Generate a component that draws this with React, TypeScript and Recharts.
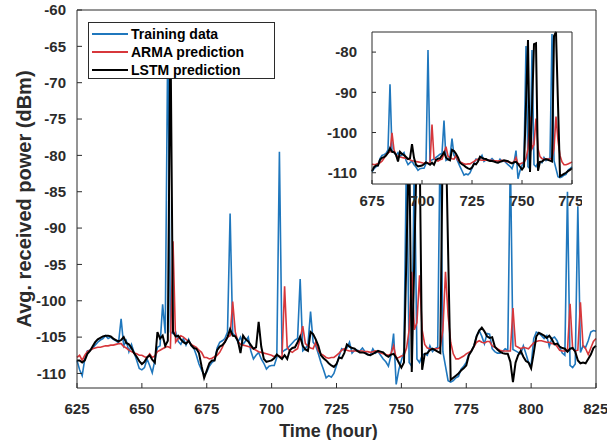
import { CartesianGrid, Legend, Line, LineChart, XAxis, YAxis } from 'recharts';

// hourly samples, 625 h .. 825 h
const START_HOUR = 625;

const TRAINING = [
  -108.2, -109.5, -110.3, -108, -106.9, -106.8, -106.6, -106.1, -105.7, -105.4,
  -105.2, -104.8, -105.2, -105, -105.3, -105.5, -105.8, -102.5, -106.2, -105.5,
  -107, -106, -107.1, -108.2, -109.3, -109.5, -109.2, -108, -108.9, -109.9,
  -108.2, -106.4, -106.2, -100.5, -104.5, -63, -104.3, -104.5, -104.3, -105.6,
  -106, -105.2, -106.1, -105.3, -106.2, -106.5, -107.5, -108.7, -109.5, -110.2,
  -109.8, -109, -108.5, -108.2, -106.5, -105.7, -105.5, -105.2, -104.3, -88,
  -104.5, -104.8, -105.7, -105, -106, -105.5, -105, -106.9, -108, -107.5,
  -107.1, -108, -108.6, -109.4, -109, -108.9, -108.9, -107.8, -79.5, -107.1,
  -106.8, -106.6, -106.2, -105.8, -105.4, -105.2, -97, -106.9, -106.6, -106,
  -101.5, -105.7, -106.2, -107.3, -108.5, -109.5, -110.6, -110.3, -110.5, -110,
  -108.9, -107.6, -106.6, -106.8, -106.5, -105.7, -107.2, -106.8, -106.8, -106.9,
  -106.5, -107, -107.4, -107.5, -106.6, -107.2, -107, -107.5, -108, -108.4,
  -109, -107.5, -104.5, -111.5, -109.5, -108.2, -107, -78.5, -108.5, -109,
  -79.5, -108, -108.5, -107.5, -107.3, -107.5, -106.2, -107, -106.6, -106.4,
  -75.5, -107, -109, -111, -111.2, -111, -110.6, -110.4, -109.4, -109,
  -108.5, -107.3, -106.9, -106.2, -104.8, -104.1, -104.9, -105.9, -104.5, -104.6,
  -106.6, -107, -107.2, -107.2, -107, -106.6, -106.8, -80, -106.7, -106.9,
  -107.1, -107.3, -106.2, -107.3, -108.5, -108.9, -105.2, -104.3, -104.5, -104.8,
  -105.2, -104.8, -106.3, -105.2, -105, -105.5, -106.4, -107.2, -107.5, -85,
  -108.9, -109.2, -108.7, -87, -107.1, -106.2, -106.4, -105.5, -104.3, -104.1,
  -104.2,
];

const ARMA = [
  -107.8, -107.5, -108.2, -107.5, -107, -106.8, -106.6, -106.5, -106.4, -106.4,
  -106.3, -106.2, -106.2, -106.1, -106.1, -106, -105.9, -105.9, -106.3, -106.5,
  -106.8, -107, -107.2, -107.3, -107.5, -107.5, -107.7, -107.8, -107.3, -107.8,
  -107.6, -107, -106.8, -106.6, -106.4, -106.3, -106.5, -91.8, -105.7, -105.2,
  -104.8, -105, -105.3, -105.6, -106, -106.2, -106.4, -106.8, -107.1, -107.8,
  -107.8, -108, -107.9, -107.7, -107.5, -107.1, -106.4, -105.6, -105, -104.8,
  -100.1, -104.3, -105.6, -106, -106.1, -106.2, -106.3, -106.4, -106.6, -106.8,
  -107, -107.1, -107.2, -107.3, -107.4, -107.5, -107.7, -107.5, -107.6, -107.8,
  -98, -106.4, -106.9, -107.1, -106.8, -106.6, -105.2, -103.5, -105.9, -106.2,
  -106.5, -106.6, -105.7, -106.9, -107.3, -107.5, -107.8, -107.9, -107.8, -107.8,
  -107.5, -107.2, -106.8, -106.6, -106.8, -106.9, -106.9, -106.9, -106.9, -106.9,
  -106.9, -107, -107, -107.1, -107, -106.9, -107, -107.2, -107.3, -107.4,
  -107.5, -107.3, -106.2, -107.9, -107.8, -107.6, -107.5, -106.5, -104, -96,
  -104, -103, -96.5, -104, -106, -106.5, -106.6, -106.7, -106.6, -106.6,
  -106.4, -104, -96, -102, -105.7, -107.3, -108, -108, -107.8, -107.6,
  -107.3, -107.1, -106.9, -106.3, -105.7, -105.5, -105.7, -105.8, -105.6, -105.6,
  -106.2, -106.4, -106.6, -106.8, -106.9, -106.9, -106.9, -106.9, -101, -106.2,
  -106.4, -106.6, -106.4, -106.5, -106.6, -106.2, -105.8, -105.6, -105.5, -105.5,
  -105.6, -105.7, -105.7, -105.9, -105.9, -106.3, -106.8, -106.9, -106.9, -106.9,
  -100.4, -106.6, -106.9, -106.8, -100.2, -106.2, -106.6, -107.4, -106.5, -105.6,
  -105.2,
];

const LSTM = [
  -108.2, -108.2, -108.5, -108.2, -107.3, -106.9, -106.3, -105.7, -105.3, -105.1,
  -104.9, -104.8, -104.8, -104.9, -105.2, -105.4, -105.6, -105.4, -105, -105.8,
  -106, -106.5, -107.2, -107.7, -108.3, -108.7, -108.4, -107.8, -107.5, -108.1,
  -108.5, -104.3, -105.2, -104.8, -106.2, -105.5, -62, -104.3, -104.9, -104.8,
  -105.3, -105.7, -105.9, -105.5, -106.1, -106.5, -106.6, -107.2, -109, -110.6,
  -109.6, -108.6, -108.2, -108.2, -106.8, -106.3, -106.1, -105.7, -105, -103.9,
  -104.8, -104.9, -105.5, -107.2, -104.8, -105.3, -105.6, -106.1, -106.6, -106.4,
  -102.9, -106.3, -108, -108.4, -108.3, -108.2, -107.9, -107.4, -107.7, -108,
  -107.5, -108, -106.8, -106.5, -106.4, -105.7, -104.9, -106.2, -106.7, -106.9,
  -104.3, -104.6, -105.3, -106.2, -107.5, -107.9, -108.2, -108.6, -108.9, -109.1,
  -108.7, -107.8, -107.9, -107.2, -106, -106.3, -106.5, -106.6, -106.9, -107.1,
  -107.1, -107.2, -107.4, -107.5, -107.3, -107.1, -106.9, -107, -107.1, -107.5,
  -107.7, -107.4, -107.3, -107.8, -108.5, -109.2, -108.5, -93, -77, -109.8,
  -94, -78, -77.8, -109.5, -107.3, -107.2, -106.8, -106.6, -106.8, -107,
  -107.2, -76, -75, -93, -110.9, -110.6, -110.3, -110, -109.6, -109.3,
  -108.9, -107.5, -106.9, -106.2, -104.9, -104.1, -103.7, -104.2, -104.9, -105.1,
  -105, -106.3, -106.7, -107, -107.2, -107.3, -107.3, -108.4, -111.2, -108.5,
  -107.5, -106.9, -107.7, -108.3, -108.5, -109.3, -107.2, -104.9, -104.4, -104.6,
  -104.8, -105.1, -104.8, -105.3, -106, -105.9, -106.3, -106.5, -106.6, -107,
  -106.6, -106.5, -107, -108.2, -108.6, -108.5, -108.6, -108, -107.4, -106.5,
  -106.2,
];

const SERIES_NAMES = ['Training data', 'ARMA prediction', 'LSTM prediction'];

const X_TICKS = [625, 650, 675, 700, 725, 750, 775, 800, 825];
const Y_TICKS = [-110, -105, -100, -95, -90, -85, -80, -75, -70, -65, -60];
const INSET_X_TICKS = [675, 700, 725, 750, 775];
const INSET_Y_TICKS = [-110, -100, -90, -80];

const BLUE = '#1f77bd';
const RED = '#d7373b';
const BLACK = '#000000';
const AXIS = '#2b2b2b';
const COLORS = [BLUE, RED, BLACK];

const data = TRAINING.map((v, i) => ({
  hour: START_HOUR + i,
  training: v,
  arma: ARMA[i],
  lstm: LSTM[i],
}));
const insetData = data.filter((d) => d.hour >= 675 && d.hour <= 775);

const tickStyle = { fill: AXIS, fontSize: 15, fontWeight: 700 };

function LegendBox() {
  return (
    <div
      style={{
        boxSizing: 'border-box',
        width: 187,
        height: 57,
        border: `1px solid ${AXIS}`,
        background: '#fff',
        paddingTop: 2,
        paddingLeft: 3,
      }}
    >
      {SERIES_NAMES.map((name, i) => (
        <div key={name} style={{ display: 'flex', alignItems: 'center', height: 18 }}>
          <div style={{ width: 36, height: 2, background: COLORS[i], marginRight: 3 }} />
          <span style={{ fontSize: 14, fontWeight: 700, color: '#000', lineHeight: '18px' }}>{name}</span>
        </div>
      ))}
    </div>
  );
}

// the LSTM series sits on the top/right axes (same domains) so the box gets drawn
function Series() {
  return [
    <Line key="t" dataKey="training" name={SERIES_NAMES[0]} stroke={BLUE} strokeWidth={1.6} dot={false} isAnimationActive={false} />,
    <Line key="a" dataKey="arma" name={SERIES_NAMES[1]} stroke={RED} strokeWidth={1.6} dot={false} isAnimationActive={false} />,
    <Line
      key="l"
      dataKey="lstm"
      name={SERIES_NAMES[2]}
      xAxisId="top"
      yAxisId="right"
      stroke={BLACK}
      strokeWidth={2}
      dot={false}
      isAnimationActive={false}
    />,
  ];
}

export default function App() {
  return (
    <div
      style={{
        position: 'absolute',
        left: 0,
        top: 0,
        width: 607,
        height: 440,
        background: '#fff',
        fontFamily: '"Liberation Sans", Arial, sans-serif',
      }}
    >
      <div style={{ position: 'absolute', left: 0, top: 0 }}>
        <LineChart width={607} height={440} data={data} margin={{ top: 9, right: 10, bottom: 0, left: 0 }}>
          <XAxis
            dataKey="hour"
            type="number"
            domain={[625, 825]}
            ticks={X_TICKS}
            height={52}
            stroke={AXIS}
            tickSize={-5}
            tickMargin={20}
            tick={tickStyle}
            label={{ value: 'Time (hour)', position: 'insideBottom', offset: 3, dx: -8, fill: AXIS, fontSize: 18, fontWeight: 700 }}
          />
          <XAxis
            xAxisId="top"
            dataKey="hour"
            orientation="top"
            type="number"
            domain={[625, 825]}
            ticks={X_TICKS}
            height={1}
            stroke={AXIS}
            tickSize={-5}
            tick={false}
          />
          <YAxis
            type="number"
            domain={[-112, -60]}
            ticks={Y_TICKS}
            width={77}
            stroke={AXIS}
            tickSize={-5}
            tickMargin={16}
            tick={tickStyle}
            label={{
              value: 'Avg. received power (dBm)',
              angle: -90,
              position: 'insideLeft',
              offset: 19,
              dx: 5,
              fill: AXIS,
              fontSize: 20,
              fontWeight: 700,
              style: { textAnchor: 'middle' },
            }}
          />
          <YAxis
            yAxisId="right"
            orientation="right"
            type="number"
            domain={[-112, -60]}
            ticks={Y_TICKS}
            width={1}
            stroke={AXIS}
            tickSize={-5}
            tick={false}
          />
          {Series()}
          <Legend
            layout="vertical"
            align="center"
            verticalAlign="middle"
            content={<LegendBox />}
            wrapperStyle={{ left: 88, top: 22, width: 187, height: 57 }}
          />
        </LineChart>
      </div>
      <div style={{ position: 'absolute', left: 320, top: 26 }}>
        <LineChart width={262} height={182} data={insetData} margin={{ top: 5, right: 9, bottom: 0, left: 0 }}>
          <CartesianGrid fill="#fff" horizontal={false} vertical={false} stroke="none" />
          <XAxis
            dataKey="hour"
            type="number"
            domain={[675, 775]}
            ticks={INSET_X_TICKS}
            height={24}
            stroke={AXIS}
            tickSize={-4}
            tickMargin={15}
            tick={tickStyle}
          />
          <XAxis
            xAxisId="top"
            dataKey="hour"
            orientation="top"
            type="number"
            domain={[675, 775]}
            ticks={INSET_X_TICKS}
            height={1}
            stroke={AXIS}
            tickSize={-4}
            tick={false}
          />
          <YAxis
            type="number"
            domain={[-112.8, -75]}
            ticks={INSET_Y_TICKS}
            width={52}
            stroke={AXIS}
            tickSize={-4}
            tickMargin={19}
            tick={tickStyle}
          />
          <YAxis
            yAxisId="right"
            orientation="right"
            type="number"
            domain={[-112.8, -75]}
            ticks={INSET_Y_TICKS}
            width={1}
            stroke={AXIS}
            tickSize={-4}
            tick={false}
          />
          {Series()}
        </LineChart>
      </div>
    </div>
  );
}
